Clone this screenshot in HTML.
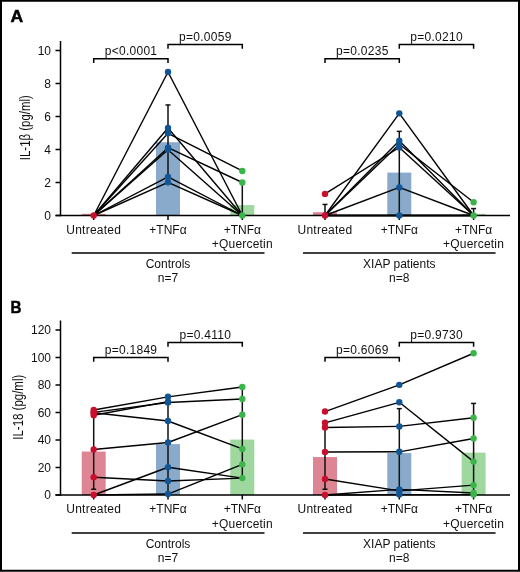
<!DOCTYPE html>
<html><head><meta charset="utf-8"><style>
html,body{margin:0;padding:0;background:#fff;}
body{width:520px;height:572px;overflow:hidden;}
svg{display:block;will-change:transform;}
.t{font-family:"Liberation Sans",sans-serif;font-size:12px;fill:#111;}
.yl{font-family:"Liberation Sans",sans-serif;font-size:13.8px;fill:#111;}
.L{font-family:"Liberation Sans",sans-serif;font-size:17px;font-weight:bold;fill:#000;stroke:#000;stroke-width:0.5px;}
</style></head><body>
<svg width="520" height="572" viewBox="0 0 520 572">
<rect x="0" y="0" width="520" height="572" fill="#fff"/>
<rect x="81.70" y="213.85" width="24" height="1.65" fill="#de8593"/>
<rect x="156.00" y="142.24" width="24" height="73.26" fill="#89aacb"/>
<rect x="230.30" y="205.10" width="24" height="10.40" fill="#9ed89f"/>
<rect x="313.00" y="212.20" width="24" height="3.30" fill="#de8593"/>
<rect x="387.30" y="172.60" width="24" height="42.90" fill="#89aacb"/>
<rect x="461.60" y="213.85" width="24" height="1.65" fill="#9ed89f"/>
<line x1="60.5" y1="41.00" x2="60.5" y2="216.25" stroke="#000" stroke-width="1.5"/>
<line x1="55.5" y1="215.5" x2="510" y2="215.5" stroke="#000" stroke-width="1.5"/>
<line x1="55.5" y1="215.50" x2="60.5" y2="215.50" stroke="#000" stroke-width="1.5"/>
<text x="51" y="219.70" text-anchor="end" class="t">0</text>
<line x1="55.5" y1="182.50" x2="60.5" y2="182.50" stroke="#000" stroke-width="1.5"/>
<text x="51" y="186.70" text-anchor="end" class="t">2</text>
<line x1="55.5" y1="149.50" x2="60.5" y2="149.50" stroke="#000" stroke-width="1.5"/>
<text x="51" y="153.70" text-anchor="end" class="t">4</text>
<line x1="55.5" y1="116.50" x2="60.5" y2="116.50" stroke="#000" stroke-width="1.5"/>
<text x="51" y="120.70" text-anchor="end" class="t">6</text>
<line x1="55.5" y1="83.50" x2="60.5" y2="83.50" stroke="#000" stroke-width="1.5"/>
<text x="51" y="87.70" text-anchor="end" class="t">8</text>
<line x1="55.5" y1="50.50" x2="60.5" y2="50.50" stroke="#000" stroke-width="1.5"/>
<text x="51" y="54.70" text-anchor="end" class="t">10</text>
<line x1="93.7" y1="215.5" x2="93.7" y2="220.0" stroke="#000" stroke-width="1.5"/>
<line x1="168.0" y1="215.5" x2="168.0" y2="220.0" stroke="#000" stroke-width="1.5"/>
<line x1="242.3" y1="215.5" x2="242.3" y2="220.0" stroke="#000" stroke-width="1.5"/>
<line x1="325.0" y1="215.5" x2="325.0" y2="220.0" stroke="#000" stroke-width="1.5"/>
<line x1="399.3" y1="215.5" x2="399.3" y2="220.0" stroke="#000" stroke-width="1.5"/>
<line x1="473.6" y1="215.5" x2="473.6" y2="220.0" stroke="#000" stroke-width="1.5"/>
<line x1="168.0" y1="104.95" x2="168.0" y2="179.20" stroke="#111" stroke-width="1.5"/>
<line x1="165.5" y1="104.95" x2="170.5" y2="104.95" stroke="#111" stroke-width="1.5"/>
<line x1="242.3" y1="182.50" x2="242.3" y2="215.50" stroke="#111" stroke-width="1.5"/>
<line x1="239.8" y1="182.50" x2="244.8" y2="182.50" stroke="#111" stroke-width="1.5"/>
<line x1="325.0" y1="204.44" x2="325.0" y2="215.50" stroke="#111" stroke-width="1.5"/>
<line x1="322.5" y1="204.44" x2="327.5" y2="204.44" stroke="#111" stroke-width="1.5"/>
<line x1="399.3" y1="131.35" x2="399.3" y2="215.50" stroke="#111" stroke-width="1.5"/>
<line x1="396.8" y1="131.35" x2="401.8" y2="131.35" stroke="#111" stroke-width="1.5"/>
<line x1="473.6" y1="208.57" x2="473.6" y2="215.50" stroke="#111" stroke-width="1.5"/>
<line x1="471.1" y1="208.57" x2="476.1" y2="208.57" stroke="#111" stroke-width="1.5"/>
<line x1="93.7" y1="215.50" x2="168.0" y2="71.95" stroke="#000" stroke-width="1.4"/>
<line x1="168.0" y1="71.95" x2="242.3" y2="215.50" stroke="#000" stroke-width="1.4"/>
<line x1="93.7" y1="215.50" x2="168.0" y2="128.05" stroke="#000" stroke-width="1.4"/>
<line x1="168.0" y1="128.05" x2="242.3" y2="215.50" stroke="#000" stroke-width="1.4"/>
<line x1="93.7" y1="215.50" x2="168.0" y2="133.33" stroke="#000" stroke-width="1.4"/>
<line x1="168.0" y1="133.33" x2="242.3" y2="170.95" stroke="#000" stroke-width="1.4"/>
<line x1="93.7" y1="215.50" x2="168.0" y2="147.69" stroke="#000" stroke-width="1.4"/>
<line x1="168.0" y1="147.69" x2="242.3" y2="182.50" stroke="#000" stroke-width="1.4"/>
<line x1="93.7" y1="215.50" x2="168.0" y2="149.66" stroke="#000" stroke-width="1.4"/>
<line x1="168.0" y1="149.66" x2="242.3" y2="215.50" stroke="#000" stroke-width="1.4"/>
<line x1="93.7" y1="215.50" x2="168.0" y2="176.89" stroke="#000" stroke-width="1.4"/>
<line x1="168.0" y1="176.89" x2="242.3" y2="215.50" stroke="#000" stroke-width="1.4"/>
<line x1="93.7" y1="215.50" x2="168.0" y2="182.34" stroke="#000" stroke-width="1.4"/>
<line x1="168.0" y1="182.34" x2="242.3" y2="215.50" stroke="#000" stroke-width="1.4"/>
<line x1="325.0" y1="193.88" x2="399.3" y2="147.52" stroke="#000" stroke-width="1.4"/>
<line x1="399.3" y1="147.52" x2="473.6" y2="215.50" stroke="#000" stroke-width="1.4"/>
<line x1="325.0" y1="215.50" x2="399.3" y2="113.36" stroke="#000" stroke-width="1.4"/>
<line x1="399.3" y1="113.36" x2="473.6" y2="215.50" stroke="#000" stroke-width="1.4"/>
<line x1="325.0" y1="215.50" x2="399.3" y2="144.22" stroke="#000" stroke-width="1.4"/>
<line x1="399.3" y1="144.22" x2="473.6" y2="202.30" stroke="#000" stroke-width="1.4"/>
<line x1="325.0" y1="215.50" x2="399.3" y2="140.75" stroke="#000" stroke-width="1.4"/>
<line x1="399.3" y1="140.75" x2="473.6" y2="215.50" stroke="#000" stroke-width="1.4"/>
<line x1="325.0" y1="215.50" x2="399.3" y2="187.45" stroke="#000" stroke-width="1.4"/>
<line x1="399.3" y1="187.45" x2="473.6" y2="215.50" stroke="#000" stroke-width="1.4"/>
<line x1="325.0" y1="215.50" x2="399.3" y2="215.50" stroke="#000" stroke-width="1.4"/>
<line x1="399.3" y1="215.50" x2="473.6" y2="215.50" stroke="#000" stroke-width="1.4"/>
<line x1="325.0" y1="215.50" x2="399.3" y2="215.50" stroke="#000" stroke-width="1.4"/>
<line x1="399.3" y1="215.50" x2="473.6" y2="215.50" stroke="#000" stroke-width="1.4"/>
<line x1="325.0" y1="215.50" x2="399.3" y2="215.50" stroke="#000" stroke-width="1.4"/>
<line x1="399.3" y1="215.50" x2="473.6" y2="215.50" stroke="#000" stroke-width="1.4"/>
<circle cx="93.7" cy="215.50" r="3.2" fill="#c8102e"/>
<circle cx="168.0" cy="182.34" r="3.2" fill="#115594"/>
<circle cx="168.0" cy="176.89" r="3.2" fill="#115594"/>
<circle cx="168.0" cy="149.66" r="3.2" fill="#115594"/>
<circle cx="168.0" cy="147.69" r="3.2" fill="#115594"/>
<circle cx="168.0" cy="133.33" r="3.2" fill="#115594"/>
<circle cx="168.0" cy="128.05" r="3.2" fill="#115594"/>
<circle cx="168.0" cy="71.95" r="3.2" fill="#115594"/>
<circle cx="242.3" cy="215.50" r="3.2" fill="#3bb54a"/>
<circle cx="242.3" cy="182.50" r="3.2" fill="#3bb54a"/>
<circle cx="242.3" cy="170.95" r="3.2" fill="#3bb54a"/>
<circle cx="325.0" cy="215.50" r="3.2" fill="#c8102e"/>
<circle cx="325.0" cy="193.88" r="3.2" fill="#c8102e"/>
<circle cx="399.3" cy="215.50" r="3.2" fill="#115594"/>
<circle cx="399.3" cy="187.45" r="3.2" fill="#115594"/>
<circle cx="399.3" cy="147.52" r="3.2" fill="#115594"/>
<circle cx="399.3" cy="144.22" r="3.2" fill="#115594"/>
<circle cx="399.3" cy="140.75" r="3.2" fill="#115594"/>
<circle cx="399.3" cy="113.36" r="3.2" fill="#115594"/>
<circle cx="473.6" cy="215.50" r="3.2" fill="#3bb54a"/>
<circle cx="473.6" cy="202.30" r="3.2" fill="#3bb54a"/>
<text x="93.7" y="233.80" text-anchor="middle" class="t" letter-spacing="0.25">Untreated</text>
<text x="168.0" y="233.80" text-anchor="middle" class="t">+TNF&#945;</text>
<text x="242.3" y="233.80" text-anchor="middle" class="t">+TNF&#945;</text>
<text x="242.3" y="248.00" text-anchor="middle" class="t" letter-spacing="0.2">+Quercetin</text>
<text x="325.0" y="233.80" text-anchor="middle" class="t" letter-spacing="0.25">Untreated</text>
<text x="399.3" y="233.80" text-anchor="middle" class="t">+TNF&#945;</text>
<text x="473.6" y="233.80" text-anchor="middle" class="t">+TNF&#945;</text>
<text x="473.6" y="248.00" text-anchor="middle" class="t" letter-spacing="0.2">+Quercetin</text>
<line x1="71.7" y1="253.00" x2="264.5" y2="253.00" stroke="#000" stroke-width="1.5"/>
<line x1="303" y1="253.00" x2="495.5" y2="253.00" stroke="#000" stroke-width="1.5"/>
<text x="168" y="267.80" text-anchor="middle" class="t">Controls</text>
<text x="168" y="281.80" text-anchor="middle" class="t">n=7</text>
<text x="399.3" y="268.00" text-anchor="middle" class="t">XIAP patients</text>
<text x="399.3" y="282.00" text-anchor="middle" class="t">n=8</text>
<text transform="translate(29.6 127.7) rotate(-90)" text-anchor="middle" class="yl" textLength="65" lengthAdjust="spacingAndGlyphs">IL-1&#946; (pg/ml)</text>
<path d="M93.7 62.95 V58.75 H168.0 V62.95" fill="none" stroke="#000" stroke-width="1.5"/>
<text x="131.00" y="54.75" text-anchor="middle" class="t" letter-spacing="0.28">p&lt;0.0001</text>
<path d="M168.0 48.7 V44.5 H242.3 V48.7" fill="none" stroke="#000" stroke-width="1.5"/>
<text x="205.30" y="40.50" text-anchor="middle" class="t" letter-spacing="0.28">p=0.0059</text>
<path d="M325.0 62.95 V58.75 H399.3 V62.95" fill="none" stroke="#000" stroke-width="1.5"/>
<text x="362.30" y="54.75" text-anchor="middle" class="t" letter-spacing="0.28">p=0.0235</text>
<path d="M399.3 48.7 V44.5 H473.6 V48.7" fill="none" stroke="#000" stroke-width="1.5"/>
<text x="436.60" y="40.50" text-anchor="middle" class="t" letter-spacing="0.28">p=0.0210</text>
<text x="10.4" y="22.4" class="L" textLength="12.7" lengthAdjust="spacingAndGlyphs">A</text>
<rect x="81.70" y="451.55" width="24" height="43.45" fill="#de8593"/>
<rect x="156.00" y="444.12" width="24" height="50.88" fill="#89aacb"/>
<rect x="230.30" y="439.59" width="24" height="55.41" fill="#9ed89f"/>
<rect x="313.00" y="457.05" width="24" height="37.95" fill="#de8593"/>
<rect x="387.30" y="453.06" width="24" height="41.94" fill="#89aacb"/>
<rect x="461.60" y="452.65" width="24" height="42.35" fill="#9ed89f"/>
<line x1="60.5" y1="320.50" x2="60.5" y2="495.75" stroke="#000" stroke-width="1.5"/>
<line x1="55.5" y1="495" x2="510" y2="495" stroke="#000" stroke-width="1.5"/>
<line x1="55.5" y1="495.00" x2="60.5" y2="495.00" stroke="#000" stroke-width="1.5"/>
<text x="51" y="499.20" text-anchor="end" class="t">0</text>
<line x1="55.5" y1="467.50" x2="60.5" y2="467.50" stroke="#000" stroke-width="1.5"/>
<text x="51" y="471.70" text-anchor="end" class="t">20</text>
<line x1="55.5" y1="440.00" x2="60.5" y2="440.00" stroke="#000" stroke-width="1.5"/>
<text x="51" y="444.20" text-anchor="end" class="t">40</text>
<line x1="55.5" y1="412.50" x2="60.5" y2="412.50" stroke="#000" stroke-width="1.5"/>
<text x="51" y="416.70" text-anchor="end" class="t">60</text>
<line x1="55.5" y1="385.00" x2="60.5" y2="385.00" stroke="#000" stroke-width="1.5"/>
<text x="51" y="389.20" text-anchor="end" class="t">80</text>
<line x1="55.5" y1="357.50" x2="60.5" y2="357.50" stroke="#000" stroke-width="1.5"/>
<text x="51" y="361.70" text-anchor="end" class="t">100</text>
<line x1="55.5" y1="330.00" x2="60.5" y2="330.00" stroke="#000" stroke-width="1.5"/>
<text x="51" y="334.20" text-anchor="end" class="t">120</text>
<line x1="93.7" y1="495" x2="93.7" y2="499.5" stroke="#000" stroke-width="1.5"/>
<line x1="168.0" y1="495" x2="168.0" y2="499.5" stroke="#000" stroke-width="1.5"/>
<line x1="242.3" y1="495" x2="242.3" y2="499.5" stroke="#000" stroke-width="1.5"/>
<line x1="325.0" y1="495" x2="325.0" y2="499.5" stroke="#000" stroke-width="1.5"/>
<line x1="399.3" y1="495" x2="399.3" y2="499.5" stroke="#000" stroke-width="1.5"/>
<line x1="473.6" y1="495" x2="473.6" y2="499.5" stroke="#000" stroke-width="1.5"/>
<line x1="93.7" y1="413.88" x2="93.7" y2="489.23" stroke="#111" stroke-width="1.5"/>
<line x1="91.2" y1="413.88" x2="96.2" y2="413.88" stroke="#111" stroke-width="1.5"/>
<line x1="91.2" y1="489.23" x2="96.2" y2="489.23" stroke="#111" stroke-width="1.5"/>
<line x1="168.0" y1="397.38" x2="168.0" y2="492.25" stroke="#111" stroke-width="1.5"/>
<line x1="165.5" y1="397.38" x2="170.5" y2="397.38" stroke="#111" stroke-width="1.5"/>
<line x1="242.3" y1="387.75" x2="242.3" y2="478.50" stroke="#111" stroke-width="1.5"/>
<line x1="239.8" y1="387.75" x2="244.8" y2="387.75" stroke="#111" stroke-width="1.5"/>
<line x1="325.0" y1="426.25" x2="325.0" y2="489.23" stroke="#111" stroke-width="1.5"/>
<line x1="322.5" y1="426.25" x2="327.5" y2="426.25" stroke="#111" stroke-width="1.5"/>
<line x1="322.5" y1="489.23" x2="327.5" y2="489.23" stroke="#111" stroke-width="1.5"/>
<line x1="399.3" y1="408.65" x2="399.3" y2="495.00" stroke="#111" stroke-width="1.5"/>
<line x1="396.8" y1="408.65" x2="401.8" y2="408.65" stroke="#111" stroke-width="1.5"/>
<line x1="473.6" y1="403.43" x2="473.6" y2="495.00" stroke="#111" stroke-width="1.5"/>
<line x1="471.1" y1="403.43" x2="476.1" y2="403.43" stroke="#111" stroke-width="1.5"/>
<line x1="93.7" y1="410.02" x2="168.0" y2="396.82" stroke="#000" stroke-width="1.4"/>
<line x1="168.0" y1="396.82" x2="242.3" y2="387.06" stroke="#000" stroke-width="1.4"/>
<line x1="93.7" y1="412.36" x2="168.0" y2="402.46" stroke="#000" stroke-width="1.4"/>
<line x1="168.0" y1="402.46" x2="242.3" y2="399.02" stroke="#000" stroke-width="1.4"/>
<line x1="93.7" y1="415.25" x2="168.0" y2="401.64" stroke="#000" stroke-width="1.4"/>
<line x1="93.7" y1="412.77" x2="168.0" y2="421.02" stroke="#000" stroke-width="1.4"/>
<line x1="168.0" y1="421.02" x2="242.3" y2="448.94" stroke="#000" stroke-width="1.4"/>
<line x1="93.7" y1="449.49" x2="168.0" y2="442.48" stroke="#000" stroke-width="1.4"/>
<line x1="168.0" y1="442.48" x2="242.3" y2="414.70" stroke="#000" stroke-width="1.4"/>
<line x1="93.7" y1="477.26" x2="168.0" y2="480.98" stroke="#000" stroke-width="1.4"/>
<line x1="168.0" y1="480.98" x2="242.3" y2="478.09" stroke="#000" stroke-width="1.4"/>
<line x1="93.7" y1="495.00" x2="168.0" y2="467.23" stroke="#000" stroke-width="1.4"/>
<line x1="168.0" y1="467.23" x2="242.3" y2="478.09" stroke="#000" stroke-width="1.4"/>
<line x1="93.7" y1="495.00" x2="168.0" y2="494.04" stroke="#000" stroke-width="1.4"/>
<line x1="168.0" y1="494.04" x2="242.3" y2="464.34" stroke="#000" stroke-width="1.4"/>
<line x1="325.0" y1="411.54" x2="399.3" y2="384.86" stroke="#000" stroke-width="1.4"/>
<line x1="399.3" y1="384.86" x2="473.6" y2="353.24" stroke="#000" stroke-width="1.4"/>
<line x1="325.0" y1="422.81" x2="399.3" y2="402.32" stroke="#000" stroke-width="1.4"/>
<line x1="399.3" y1="402.32" x2="473.6" y2="461.59" stroke="#000" stroke-width="1.4"/>
<line x1="325.0" y1="427.49" x2="399.3" y2="426.39" stroke="#000" stroke-width="1.4"/>
<line x1="399.3" y1="426.39" x2="473.6" y2="417.73" stroke="#000" stroke-width="1.4"/>
<line x1="325.0" y1="451.96" x2="399.3" y2="451.82" stroke="#000" stroke-width="1.4"/>
<line x1="399.3" y1="451.82" x2="473.6" y2="438.49" stroke="#000" stroke-width="1.4"/>
<line x1="325.0" y1="479.05" x2="399.3" y2="490.88" stroke="#000" stroke-width="1.4"/>
<line x1="399.3" y1="490.88" x2="473.6" y2="485.10" stroke="#000" stroke-width="1.4"/>
<line x1="325.0" y1="495.00" x2="399.3" y2="489.36" stroke="#000" stroke-width="1.4"/>
<line x1="399.3" y1="489.36" x2="473.6" y2="492.94" stroke="#000" stroke-width="1.4"/>
<line x1="325.0" y1="495.00" x2="399.3" y2="494.59" stroke="#000" stroke-width="1.4"/>
<line x1="399.3" y1="494.59" x2="473.6" y2="494.59" stroke="#000" stroke-width="1.4"/>
<circle cx="93.7" cy="495.00" r="3.2" fill="#c8102e"/>
<circle cx="93.7" cy="477.26" r="3.2" fill="#c8102e"/>
<circle cx="93.7" cy="449.49" r="3.2" fill="#c8102e"/>
<circle cx="93.7" cy="415.25" r="3.2" fill="#c8102e"/>
<circle cx="93.7" cy="412.77" r="3.2" fill="#c8102e"/>
<circle cx="93.7" cy="412.36" r="3.2" fill="#c8102e"/>
<circle cx="93.7" cy="410.02" r="3.2" fill="#c8102e"/>
<circle cx="168.0" cy="494.04" r="3.2" fill="#115594"/>
<circle cx="168.0" cy="480.98" r="3.2" fill="#115594"/>
<circle cx="168.0" cy="467.23" r="3.2" fill="#115594"/>
<circle cx="168.0" cy="442.48" r="3.2" fill="#115594"/>
<circle cx="168.0" cy="421.02" r="3.2" fill="#115594"/>
<circle cx="168.0" cy="402.46" r="3.2" fill="#115594"/>
<circle cx="168.0" cy="401.64" r="3.2" fill="#115594"/>
<circle cx="168.0" cy="396.82" r="3.2" fill="#115594"/>
<circle cx="242.3" cy="478.09" r="3.2" fill="#3bb54a"/>
<circle cx="242.3" cy="464.34" r="3.2" fill="#3bb54a"/>
<circle cx="242.3" cy="448.94" r="3.2" fill="#3bb54a"/>
<circle cx="242.3" cy="414.70" r="3.2" fill="#3bb54a"/>
<circle cx="242.3" cy="399.02" r="3.2" fill="#3bb54a"/>
<circle cx="242.3" cy="387.06" r="3.2" fill="#3bb54a"/>
<circle cx="325.0" cy="495.00" r="3.2" fill="#c8102e"/>
<circle cx="325.0" cy="479.05" r="3.2" fill="#c8102e"/>
<circle cx="325.0" cy="451.96" r="3.2" fill="#c8102e"/>
<circle cx="325.0" cy="427.49" r="3.2" fill="#c8102e"/>
<circle cx="325.0" cy="422.81" r="3.2" fill="#c8102e"/>
<circle cx="325.0" cy="411.54" r="3.2" fill="#c8102e"/>
<circle cx="399.3" cy="494.59" r="3.2" fill="#115594"/>
<circle cx="399.3" cy="490.88" r="3.2" fill="#115594"/>
<circle cx="399.3" cy="489.36" r="3.2" fill="#115594"/>
<circle cx="399.3" cy="451.82" r="3.2" fill="#115594"/>
<circle cx="399.3" cy="426.39" r="3.2" fill="#115594"/>
<circle cx="399.3" cy="402.32" r="3.2" fill="#115594"/>
<circle cx="399.3" cy="384.86" r="3.2" fill="#115594"/>
<circle cx="473.6" cy="494.59" r="3.2" fill="#3bb54a"/>
<circle cx="473.6" cy="492.94" r="3.2" fill="#3bb54a"/>
<circle cx="473.6" cy="485.10" r="3.2" fill="#3bb54a"/>
<circle cx="473.6" cy="461.59" r="3.2" fill="#3bb54a"/>
<circle cx="473.6" cy="438.49" r="3.2" fill="#3bb54a"/>
<circle cx="473.6" cy="417.73" r="3.2" fill="#3bb54a"/>
<circle cx="473.6" cy="353.24" r="3.2" fill="#3bb54a"/>
<text x="93.7" y="513.30" text-anchor="middle" class="t" letter-spacing="0.25">Untreated</text>
<text x="168.0" y="513.30" text-anchor="middle" class="t">+TNF&#945;</text>
<text x="242.3" y="513.30" text-anchor="middle" class="t">+TNF&#945;</text>
<text x="242.3" y="527.50" text-anchor="middle" class="t" letter-spacing="0.2">+Quercetin</text>
<text x="325.0" y="513.30" text-anchor="middle" class="t" letter-spacing="0.25">Untreated</text>
<text x="399.3" y="513.30" text-anchor="middle" class="t">+TNF&#945;</text>
<text x="473.6" y="513.30" text-anchor="middle" class="t">+TNF&#945;</text>
<text x="473.6" y="527.50" text-anchor="middle" class="t" letter-spacing="0.2">+Quercetin</text>
<line x1="71.7" y1="533.00" x2="264.5" y2="533.00" stroke="#000" stroke-width="1.5"/>
<line x1="303" y1="533.00" x2="495.5" y2="533.00" stroke="#000" stroke-width="1.5"/>
<text x="168" y="547.80" text-anchor="middle" class="t">Controls</text>
<text x="168" y="561.80" text-anchor="middle" class="t">n=7</text>
<text x="399.3" y="548.00" text-anchor="middle" class="t">XIAP patients</text>
<text x="399.3" y="562.00" text-anchor="middle" class="t">n=8</text>
<text transform="translate(23.0 407.2) rotate(-90)" text-anchor="middle" class="yl" textLength="65" lengthAdjust="spacingAndGlyphs">IL-18 (pg/ml)</text>
<path d="M93.7 361.7 V357.5 H168.0 V361.7" fill="none" stroke="#000" stroke-width="1.5"/>
<text x="131.00" y="353.50" text-anchor="middle" class="t" letter-spacing="0.28">p=0.1849</text>
<path d="M168.0 346.7 V342.5 H242.3 V346.7" fill="none" stroke="#000" stroke-width="1.5"/>
<text x="205.30" y="338.50" text-anchor="middle" class="t" letter-spacing="0.28">p=0.4110</text>
<path d="M325.0 361.7 V357.5 H399.3 V361.7" fill="none" stroke="#000" stroke-width="1.5"/>
<text x="362.30" y="353.50" text-anchor="middle" class="t" letter-spacing="0.28">p=0.6069</text>
<path d="M399.3 346.7 V342.5 H473.6 V346.7" fill="none" stroke="#000" stroke-width="1.5"/>
<text x="436.60" y="338.50" text-anchor="middle" class="t" letter-spacing="0.28">p=0.9730</text>
<text x="10.4" y="313.1" class="L" textLength="11.0" lengthAdjust="spacingAndGlyphs">B</text>
<rect x="1" y="0.75" width="518" height="570" fill="none" stroke="#000" stroke-width="2"/>
</svg>
</body></html>
